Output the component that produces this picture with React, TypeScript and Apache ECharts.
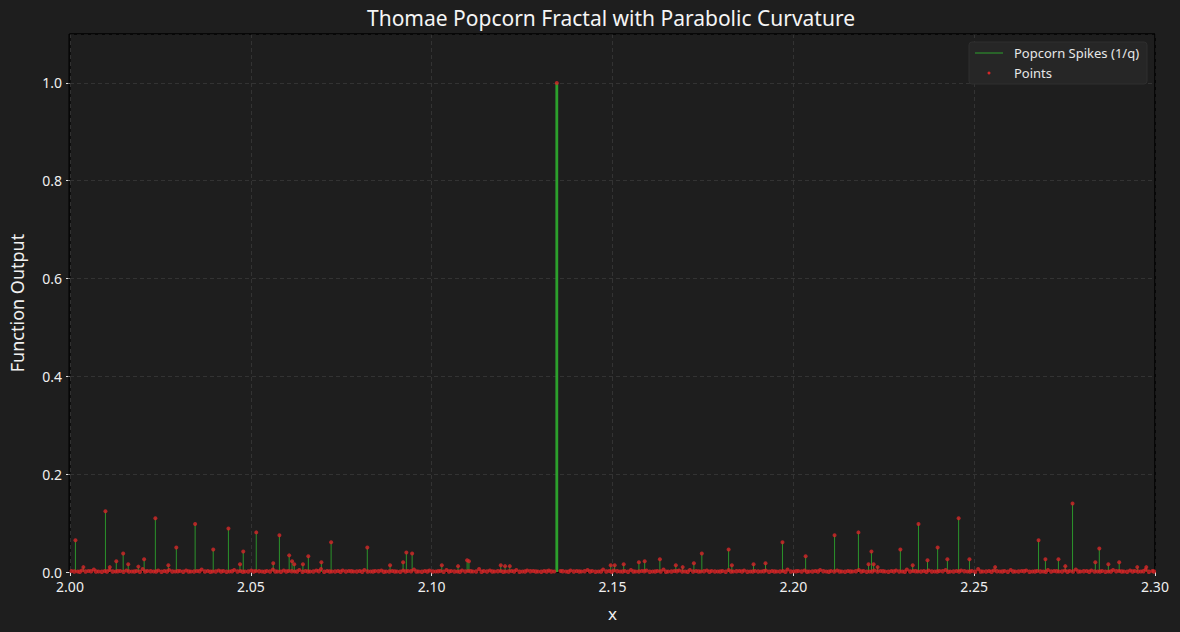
import React, { useEffect, useRef } from "react";
import * as echarts from "echarts";

const TITLE = "Thomae Popcorn Fractal with Parabolic Curvature";
const X_LABEL = "x";
const Y_LABEL = "Function Output";
const SPIKE_NAME = "Popcorn Spikes (1/q)";
const POINT_NAME = "Points";

// Visible spikes (x position, 1/q height)
const SPIKE_X = [
  2.0015, 2.0037, 2.0098, 2.011, 2.0128, 2.0147, 2.0161, 2.0189, 2.0205, 2.0236,
  2.0272, 2.0294, 2.0346, 2.0396, 2.0438, 2.047, 2.0479, 2.0515, 2.0562, 2.0579,
  2.0606, 2.0614, 2.062, 2.0644, 2.0659, 2.0695, 2.0722, 2.0822, 2.0885, 2.0921,
  2.093, 2.0946, 2.1028, 2.1073, 2.1098, 2.1103, 2.1191, 2.1203, 2.1216, 2.1346,
  2.1495, 2.1506, 2.1531, 2.1573, 2.1589, 2.1631, 2.1675, 2.1694, 2.1725, 2.1747,
  2.1821, 2.183, 2.189, 2.1923, 2.197, 2.2034, 2.2114, 2.218, 2.2208, 2.2216,
  2.2222, 2.2233, 2.2296, 2.233, 2.2346, 2.2371, 2.2399, 2.2426, 2.2457, 2.2487,
  2.2558, 2.2678, 2.2697, 2.2733, 2.2752, 2.2772, 2.2835, 2.2846, 2.2871, 2.2901,
  2.2951, 2.2976,
];
const SPIKE_Y = [
  0.065, 0.01, 0.124, 0.01, 0.022, 0.038, 0.016, 0.011, 0.026, 0.11,
  0.014, 0.05, 0.098, 0.046, 0.089, 0.016, 0.042, 0.081, 0.018, 0.075,
  0.034, 0.022, 0.016, 0.016, 0.032, 0.02, 0.061, 0.05, 0.014, 0.02,
  0.04, 0.038, 0.014, 0.012, 0.024, 0.022, 0.014, 0.012, 0.012, 1.0,
  0.014, 0.014, 0.016, 0.02, 0.022, 0.026, 0.014, 0.01, 0.018, 0.038,
  0.046, 0.014, 0.016, 0.018, 0.061, 0.032, 0.075, 0.081, 0.016, 0.042,
  0.016, 0.01, 0.046, 0.014, 0.098, 0.024, 0.05, 0.026, 0.11, 0.026,
  0.01, 0.065, 0.026, 0.026, 0.012, 0.14, 0.02, 0.048, 0.016, 0.02,
  0.01, 0.01,
];

// Dense low points (large q) forming the band along the axis
const BASE_X = [
  2.0004, 2.0021, 2.0033, 2.0051, 2.0066, 2.0079, 2.0096, 2.0109, 2.0126, 2.0139,
  2.0156, 2.0171, 2.0184, 2.0201, 2.0214, 2.0231, 2.0244, 2.0261, 2.0274, 2.0291,
  2.0304, 2.0321, 2.0334, 2.0351, 2.0364, 2.0381, 2.0394, 2.0411, 2.0424, 2.0441,
  2.0454, 2.0471, 2.0484, 2.0501, 2.0514, 2.0531, 2.0544, 2.0561, 2.0574, 2.0591,
  2.0604, 2.0621, 2.0634, 2.0651, 2.0664, 2.0681, 2.0694, 2.0711, 2.0724, 2.0741,
  2.0754, 2.0771, 2.0784, 2.0801, 2.0814, 2.0831, 2.0844, 2.0861, 2.0874, 2.0891,
  2.0904, 2.0921, 2.0934, 2.0951, 2.0964, 2.0981, 2.0994, 2.1011, 2.1024, 2.1041,
  2.1054, 2.1071, 2.1084, 2.1101, 2.1114, 2.1131, 2.1144, 2.1161, 2.1174, 2.1191,
  2.1204, 2.1221, 2.1234, 2.1251, 2.1264, 2.1281, 2.1294, 2.1311, 2.1324, 2.1339,
  2.1356, 2.1371, 2.1384, 2.1401, 2.1414, 2.1431, 2.1444, 2.1461, 2.1474, 2.1491,
  2.1504, 2.1521, 2.1534, 2.1551, 2.1564, 2.1581, 2.1594, 2.1611, 2.1624, 2.1641,
  2.1654, 2.1671, 2.1684, 2.1701, 2.1714, 2.1731, 2.1744, 2.1761, 2.1774, 2.1791,
  2.1804, 2.1821, 2.1834, 2.1851, 2.1864, 2.1881, 2.1894, 2.1911, 2.1924, 2.1941,
  2.1954, 2.1971, 2.1984, 2.2001, 2.2014, 2.2031, 2.2044, 2.2061, 2.2074, 2.2091,
  2.2104, 2.2121, 2.2134, 2.2151, 2.2164, 2.2181, 2.2194, 2.2211, 2.2224, 2.2241,
  2.2254, 2.2271, 2.2284, 2.2301, 2.2314, 2.2331, 2.2344, 2.2361, 2.2374, 2.2391,
  2.2404, 2.2421, 2.2434, 2.2451, 2.2464, 2.2481, 2.2494, 2.2511, 2.2524, 2.2541,
  2.2554, 2.2571, 2.2584, 2.2601, 2.2614, 2.2631, 2.2644, 2.2661, 2.2674, 2.2691,
  2.2704, 2.2721, 2.2734, 2.2751, 2.2764, 2.2781, 2.2794, 2.2811, 2.2824, 2.2841,
  2.2854, 2.2871, 2.2884, 2.2901, 2.2914, 2.2931, 2.2944, 2.2961, 2.2974, 2.2993,
];
const BASE_Y = [
  0.002, 0.001, 0.003, 0.002, 0.005, 0.001, 0.002, 0.004, 0.001, 0.002,
  0.003, 0.001, 0.002, 0.006, 0.002, 0.001, 0.003, 0.002, 0.004, 0.001,
  0.002, 0.003, 0.001, 0.002, 0.005, 0.002, 0.001, 0.003, 0.002, 0.001,
  0.004, 0.002, 0.001, 0.003, 0.002, 0.001, 0.002, 0.005, 0.001, 0.003,
  0.002, 0.001, 0.004, 0.002, 0.001, 0.003, 0.006, 0.002, 0.001, 0.002,
  0.003, 0.002, 0.001, 0.002, 0.004, 0.001, 0.002, 0.003, 0.001, 0.002,
  0.001, 0.003, 0.002, 0.005, 0.001, 0.002, 0.003, 0.001, 0.002, 0.004,
  0.002, 0.001, 0.003, 0.002, 0.001, 0.006, 0.002, 0.003, 0.001, 0.002,
  0.001, 0.002, 0.004, 0.001, 0.003, 0.002, 0.001, 0.002, 0.003, 0.001,
  0.002, 0.001, 0.003, 0.002, 0.001, 0.004, 0.002, 0.001, 0.005, 0.002,
  0.003, 0.001, 0.002, 0.004, 0.001, 0.002, 0.003, 0.001, 0.002, 0.005,
  0.001, 0.002, 0.003, 0.001, 0.004, 0.002, 0.001, 0.003, 0.002, 0.001,
  0.002, 0.004, 0.001, 0.002, 0.003, 0.001, 0.002, 0.001, 0.003, 0.002,
  0.001, 0.002, 0.005, 0.001, 0.002, 0.003, 0.001, 0.002, 0.004, 0.001,
  0.002, 0.003, 0.001, 0.002, 0.001, 0.004, 0.002, 0.001, 0.003, 0.002,
  0.001, 0.002, 0.003, 0.001, 0.005, 0.002, 0.001, 0.002, 0.003, 0.001,
  0.002, 0.004, 0.001, 0.002, 0.003, 0.001, 0.002, 0.006, 0.001, 0.002,
  0.003, 0.001, 0.002, 0.004, 0.001, 0.002, 0.003, 0.001, 0.002, 0.001,
  0.004, 0.002, 0.001, 0.003, 0.002, 0.005, 0.001, 0.002, 0.003, 0.001,
  0.002, 0.001, 0.004, 0.002, 0.001, 0.003, 0.002, 0.001, 0.005, 0.002,
];

// Second layer of near-zero points filling the band
const BASE2_X = [
  2.0012, 2.0027, 2.0043, 2.0058, 2.0072, 2.0088, 2.0102, 2.0118, 2.0132, 2.0148,
  2.0163, 2.0178, 2.0193, 2.0208, 2.0223, 2.0238, 2.0253, 2.0268, 2.0283, 2.0298,
  2.0313, 2.0328, 2.0343, 2.0358, 2.0373, 2.0388, 2.0403, 2.0418, 2.0433, 2.0448,
  2.0463, 2.0478, 2.0493, 2.0508, 2.0523, 2.0538, 2.0553, 2.0568, 2.0583, 2.0598,
  2.0613, 2.0628, 2.0643, 2.0658, 2.0673, 2.0688, 2.0703, 2.0718, 2.0733, 2.0748,
  2.0763, 2.0778, 2.0793, 2.0808, 2.0823, 2.0838, 2.0853, 2.0868, 2.0883, 2.0898,
  2.0913, 2.0928, 2.0943, 2.0958, 2.0973, 2.0988, 2.1003, 2.1018, 2.1033, 2.1048,
  2.1063, 2.1078, 2.1093, 2.1108, 2.1123, 2.1138, 2.1153, 2.1168, 2.1183, 2.1198,
  2.1213, 2.1228, 2.1243, 2.1258, 2.1273, 2.1288, 2.1303, 2.1318, 2.1331, 2.1362,
  2.1378, 2.1393, 2.1408, 2.1423, 2.1438, 2.1453, 2.1468, 2.1483, 2.1498, 2.1513,
  2.1528, 2.1543, 2.1558, 2.1573, 2.1588, 2.1603, 2.1618, 2.1633, 2.1648, 2.1663,
  2.1678, 2.1693, 2.1708, 2.1723, 2.1738, 2.1753, 2.1768, 2.1783, 2.1798, 2.1813,
  2.1828, 2.1843, 2.1858, 2.1873, 2.1888, 2.1903, 2.1918, 2.1933, 2.1948, 2.1963,
  2.1978, 2.1993, 2.2008, 2.2023, 2.2038, 2.2053, 2.2068, 2.2083, 2.2098, 2.2113,
  2.2128, 2.2143, 2.2158, 2.2173, 2.2188, 2.2203, 2.2218, 2.2233, 2.2248, 2.2263,
  2.2278, 2.2293, 2.2308, 2.2323, 2.2338, 2.2353, 2.2368, 2.2383, 2.2398, 2.2413,
  2.2428, 2.2443, 2.2458, 2.2473, 2.2488, 2.2503, 2.2518, 2.2533, 2.2548, 2.2563,
  2.2578, 2.2593, 2.2608, 2.2623, 2.2638, 2.2653, 2.2668, 2.2683, 2.2698, 2.2713,
  2.2728, 2.2743, 2.2758, 2.2773, 2.2788, 2.2803, 2.2818, 2.2833, 2.2848, 2.2863,
  2.2878, 2.2893, 2.2908, 2.2923, 2.2938, 2.2953, 2.2968, 2.2983, 2.2997,
];
const BASE2_Y = [
  0.001, 0.0005, 0.001, 0.0015, 0.001, 0.0005, 0.001, 0.001, 0.0015, 0.0005,
  0.001, 0.001, 0.0005, 0.001, 0.0015, 0.001, 0.0005, 0.001, 0.001, 0.0015,
  0.0005, 0.001, 0.001, 0.0015, 0.001, 0.0005, 0.001, 0.001, 0.0005, 0.0015,
  0.001, 0.0005, 0.001, 0.001, 0.0015, 0.0005, 0.001, 0.001, 0.0005, 0.001,
  0.0015, 0.001, 0.0005, 0.001, 0.001, 0.0015, 0.0005, 0.001, 0.001, 0.0005,
  0.001, 0.0015, 0.001, 0.0005, 0.001, 0.001, 0.0015, 0.0005, 0.001, 0.001,
  0.0005, 0.001, 0.0015, 0.001, 0.0005, 0.001, 0.001, 0.0015, 0.0005, 0.001,
  0.001, 0.0005, 0.001, 0.0015, 0.001, 0.0005, 0.001, 0.001, 0.0015, 0.0005,
  0.001, 0.001, 0.0005, 0.001, 0.0015, 0.001, 0.0005, 0.001, 0.001, 0.0015,
  0.0005, 0.001, 0.001, 0.0015, 0.001, 0.0005, 0.001, 0.001, 0.0005, 0.0015,
  0.001, 0.0005, 0.001, 0.001, 0.0015, 0.0005, 0.001, 0.001, 0.0005, 0.001,
  0.0015, 0.001, 0.0005, 0.001, 0.001, 0.0015, 0.0005, 0.001, 0.001, 0.0005,
  0.001, 0.0015, 0.001, 0.0005, 0.001, 0.001, 0.0015, 0.0005, 0.001, 0.001,
  0.0005, 0.001, 0.0015, 0.001, 0.0005, 0.001, 0.001, 0.0015, 0.0005, 0.001,
  0.001, 0.0005, 0.001, 0.0015, 0.001, 0.0005, 0.001, 0.001, 0.0015, 0.0005,
  0.001, 0.001, 0.0005, 0.001, 0.0015, 0.001, 0.0005, 0.001, 0.001, 0.0015,
  0.0005, 0.001, 0.001, 0.0015, 0.001, 0.0005, 0.001, 0.001, 0.0005, 0.0015,
  0.001, 0.0005, 0.001, 0.001, 0.0015, 0.0005, 0.001, 0.001, 0.0005, 0.001,
  0.0015, 0.001, 0.0005, 0.001, 0.001, 0.0015, 0.0005, 0.001, 0.001, 0.0005,
  0.001, 0.0015, 0.001, 0.0005, 0.001, 0.001, 0.0015, 0.0005, 0.001,
];

const X_MIN = 2.0;
const X_MAX = 2.3;
const X_STEP = 0.05;
const Y_MIN = 0;
const Y_MAX = 1.1;
const Y_STEP = 0.2;

const BG = "#1e1e1e";
const GREEN = "#2ca02c";
const RED = "#d62728";
const FONT = "'Noto Sans', sans-serif";

const GRID_L = 69;
const GRID_R = 25;
const GRID_T = 34;
const GRID_B = 60;
const W = 1180;
const H = 632;

export default function App() {
  const ref = useRef<HTMLDivElement>(null);

  useEffect(() => {
    if (!ref.current) return;
    const chart = echarts.init(ref.current, undefined, { renderer: "svg" });

    const spikeData = SPIKE_X.map((x, i) => [x, SPIKE_Y[i]]);
    const baseData = BASE_X.map((x, i) => [x, BASE_Y[i]]);
    const base2Data = BASE2_X.map((x, i) => [x, BASE2_Y[i]]);

    const splitStyle = { color: "#383838", type: [4, 3], width: 0.8 };

    const option: any = {
      animation: false,
      backgroundColor: BG,
      textStyle: { fontFamily: FONT },
      grid: {
        left: GRID_L,
        right: GRID_R,
        top: GRID_T,
        bottom: GRID_B,
        show: true,
        borderColor: "#000",
        borderWidth: 1,
        backgroundColor: BG,
      },
      xAxis: {
        type: "value",
        min: X_MIN,
        max: X_MAX,
        interval: X_STEP,
        name: X_LABEL,
        nameLocation: "middle",
        nameGap: 33,
        nameTextStyle: { color: "#f0f0f0", fontSize: 17, fontFamily: FONT },
        axisLine: { show: false },
        axisTick: { show: true, length: 4, lineStyle: { color: "#e0e0e0" } },
        axisLabel: {
          color: "#f0f0f0",
          fontSize: 14,
          fontFamily: FONT,
          margin: 7,
          formatter: (v: number) => v.toFixed(2),
        },
        splitLine: { show: true, lineStyle: splitStyle },
      },
      yAxis: {
        type: "value",
        min: Y_MIN,
        max: Y_MAX,
        interval: Y_STEP,
        name: Y_LABEL,
        nameLocation: "middle",
        nameGap: 44,
        nameTextStyle: { color: "#f0f0f0", fontSize: 18, fontFamily: FONT },
        axisLine: { show: false },
        axisTick: { show: true, length: 4, lineStyle: { color: "#e0e0e0" } },
        axisLabel: {
          color: "#f0f0f0",
          fontSize: 14,
          fontFamily: FONT,
          margin: 8,
          showMaxLabel: false,
          formatter: (v: number) => (v > 1.05 ? "" : v.toFixed(1)),
        },
        splitLine: { show: true, lineStyle: splitStyle },
      },
      graphic: [
        {
          type: "rect",
          shape: {
            x: GRID_L,
            y: GRID_T,
            width: W - GRID_L - GRID_R,
            height: H - GRID_T - GRID_B,
          },
          style: { fill: "none", stroke: "#000", lineWidth: 1 },
          silent: true,
          z: 1,
        },
        {
          type: "text",
          x: 611,
          y: 18,
          style: {
            text: TITLE,
            fill: "#f5f5f5",
            font: `21px ${FONT}`,
            textAlign: "center",
            textVerticalAlign: "middle",
          },
          z: 10,
        },
        {
          type: "rect",
          shape: { x: 969, y: 42, width: 178, height: 42, r: 3 },
          style: { fill: "#262626", stroke: "#2e2e2e", lineWidth: 1 },
          z: 10,
        },
        {
          type: "line",
          shape: { x1: 975, y1: 53, x2: 1003, y2: 53 },
          style: { stroke: GREEN, lineWidth: 1 },
          z: 11,
        },
        {
          type: "text",
          x: 1014,
          y: 53,
          style: {
            text: SPIKE_NAME,
            fill: "#e6e6e6",
            font: `13px ${FONT}`,
            textVerticalAlign: "middle",
          },
          z: 11,
        },
        {
          type: "circle",
          shape: { cx: 989, cy: 73, r: 1.5 },
          style: { fill: RED },
          z: 11,
        },
        {
          type: "text",
          x: 1014,
          y: 73,
          style: {
            text: POINT_NAME,
            fill: "#e6e6e6",
            font: `13px ${FONT}`,
            textVerticalAlign: "middle",
          },
          z: 11,
        },
      ],
      series: [
        {
          type: "custom",
          name: SPIKE_NAME,
          data: spikeData,
          encode: { x: 0, y: 1 },
          renderItem: (_params: any, api: any) => {
            const x = api.value(0);
            const y = api.value(1);
            const top = api.coord([x, y]);
            const bot = api.coord([x, 0]);
            return {
              type: "line",
              shape: { x1: top[0], y1: top[1], x2: bot[0], y2: bot[1] },
              style: { stroke: GREEN, lineWidth: y >= 0.5 ? 2.8 : 0.9 },
            };
          },
          z: 2,
        },
        {
          type: "scatter",
          name: POINT_NAME,
          data: base2Data,
          symbol: "circle",
          symbolSize: 4.5,
          itemStyle: { color: RED },
          clip: false,
          z: 3,
        },
        {
          type: "scatter",
          name: POINT_NAME,
          data: baseData,
          symbol: "circle",
          symbolSize: 4,
          itemStyle: { color: RED },
          clip: false,
          z: 3,
        },
        {
          type: "scatter",
          name: POINT_NAME,
          data: spikeData,
          symbol: "circle",
          symbolSize: 4,
          itemStyle: { color: RED },
          clip: false,
          z: 4,
        },
      ],
    };

    chart.setOption(option);
    return () => chart.dispose();
  }, []);

  return (
    <div
      ref={ref}
      style={{ position: "fixed", left: 0, top: 0, width: W, height: H }}
    />
  );
}
